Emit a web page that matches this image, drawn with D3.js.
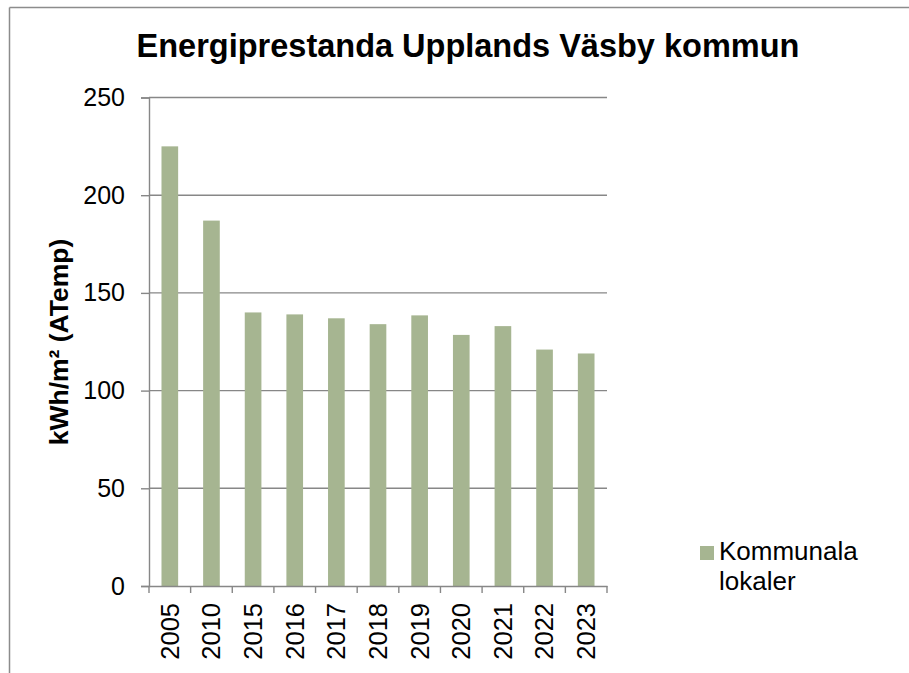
<!DOCTYPE html>
<html>
<head>
<meta charset="utf-8">
<script src="https://cdn.jsdelivr.net/npm/d3@7"></script>
<style>
	body { margin: 0; background: #fff; }
	text { font-family: Arial, "Liberation Sans", sans-serif; fill: #000; }
</style>
</head>
<body>
<svg id="chart" width="909" height="673"></svg>
<script>
// energy performance bar chart

var years = ['2005', '2010', '2015', '2016', '2017', '2018', '2019', '2020', '2021', '2022', '2023'];
var values = [225, 187, 140, 139, 137, 134, 138.5, 128.5, 133, 121, 119];
var y_ticks = [0, 50, 100, 150, 200, 250];
var series_name = ['Kommunala', 'lokaler'];

var conf = {
	width: 909, height: 673,
	left: 149, right: 607, top: 97.5, bottom: 586,
	bar_color: '#a6b591', grid_color: '#878787'
};

var svg = d3.select('#chart');

// outer frame (top + left only)
svg.append('line').attr('x1', 9.5).attr('y1', 7.5).attr('x2', conf.width).attr('y2', 7.5)
	.attr('stroke', '#8c8c8c').attr('stroke-width', 1.5);
svg.append('line').attr('x1', 9.5).attr('y1', 7.5).attr('x2', 9.5).attr('y2', conf.height)
	.attr('stroke', '#8c8c8c').attr('stroke-width', 1.5);

var x_scale = d3.scaleBand().domain(years).range([conf.left, conf.right]).paddingInner(0.6).paddingOuter(0.3);
var x_band = d3.scaleBand().domain(years).range([conf.left, conf.right]);
var y_scale = d3.scaleLinear().domain([0, 250]).range([conf.bottom, conf.top]);

// gridlines
svg.append('g').selectAll('line').data(y_ticks.filter(function (d) {return d > 0;})).enter()
	.append('line')
	.attr('x1', conf.left).attr('x2', conf.right)
	.attr('y1', function (d) {return y_scale(d);}).attr('y2', function (d) {return y_scale(d);})
	.attr('stroke', conf.grid_color).attr('stroke-width', 1.4);

// bars
svg.append('g').selectAll('rect').data(values).enter()
	.append('rect')
	.attr('x', function (d, i) {return x_scale(years[i]);})
	.attr('width', x_scale.bandwidth())
	.attr('y', function (d) {return y_scale(d);})
	.attr('height', function (d) {return conf.bottom - y_scale(d);})
	.attr('fill', conf.bar_color);

// y axis
var y_axis = d3.axisLeft(y_scale).tickValues(y_ticks).tickSize(8).tickPadding(16);
var gy = svg.append('g').attr('transform', 'translate(' + conf.left + ',0)').call(y_axis);
gy.select('.domain').attr('stroke', conf.grid_color).attr('stroke-width', 1.4);
gy.selectAll('.tick line').attr('stroke', conf.grid_color).attr('stroke-width', 1.4);
gy.selectAll('.tick text').style('font-size', '25px').attr('fill', '#000')
	.attr('font-family', 'Arial, "Liberation Sans", sans-serif');

// x axis
var x_axis = d3.axisBottom(x_band).tickSize(0).tickFormat('');
var gx = svg.append('g').attr('transform', 'translate(0,' + conf.bottom + ')').call(x_axis);
gx.select('.domain').attr('stroke', conf.grid_color).attr('stroke-width', 1.4);
// tick marks between categories
gx.append('g').selectAll('line').data(years.concat(['end'])).enter()
	.append('line')
	.attr('x1', function (d, i) {return conf.left + i * x_band.step();})
	.attr('x2', function (d, i) {return conf.left + i * x_band.step();})
	.attr('y1', 0).attr('y2', 7)
	.attr('stroke', conf.grid_color).attr('stroke-width', 1.4);
gx.append('g').selectAll('text').data(years).enter()
	.append('text')
	.attr('transform', function (d) {
		return 'translate(' + (x_band(d) + x_band.bandwidth() / 2) + ',17) rotate(-90)';
	})
	.attr('text-anchor', 'end')
	.attr('dy', '0.35em')
	.style('font-size', '25.5px')
	.text(function (d) {return d;});

// title
svg.append('text').attr('x', 468).attr('y', 57).attr('text-anchor', 'middle')
	.style('font-size', '32.5px').style('font-weight', 'bold')
	.text('Energiprestanda Upplands Väsby kommun');

// y axis title
svg.append('text').attr('transform', 'translate(68,342) rotate(-90)').attr('text-anchor', 'middle')
	.style('font-size', '26.5px').style('font-weight', 'bold')
	.text('kWh/m² (ATemp)');

// legend
var legend = svg.append('g');
legend.append('rect').attr('x', 700).attr('y', 546).attr('width', 14).attr('height', 14).attr('fill', conf.bar_color);
legend.selectAll('text').data(series_name).enter()
	.append('text')
	.attr('x', 719).attr('y', function (d, i) {return 560 + i * 30;})
	.style('font-size', '26px')
	.text(function (d) {return d;});
</script>
</body>
</html>
